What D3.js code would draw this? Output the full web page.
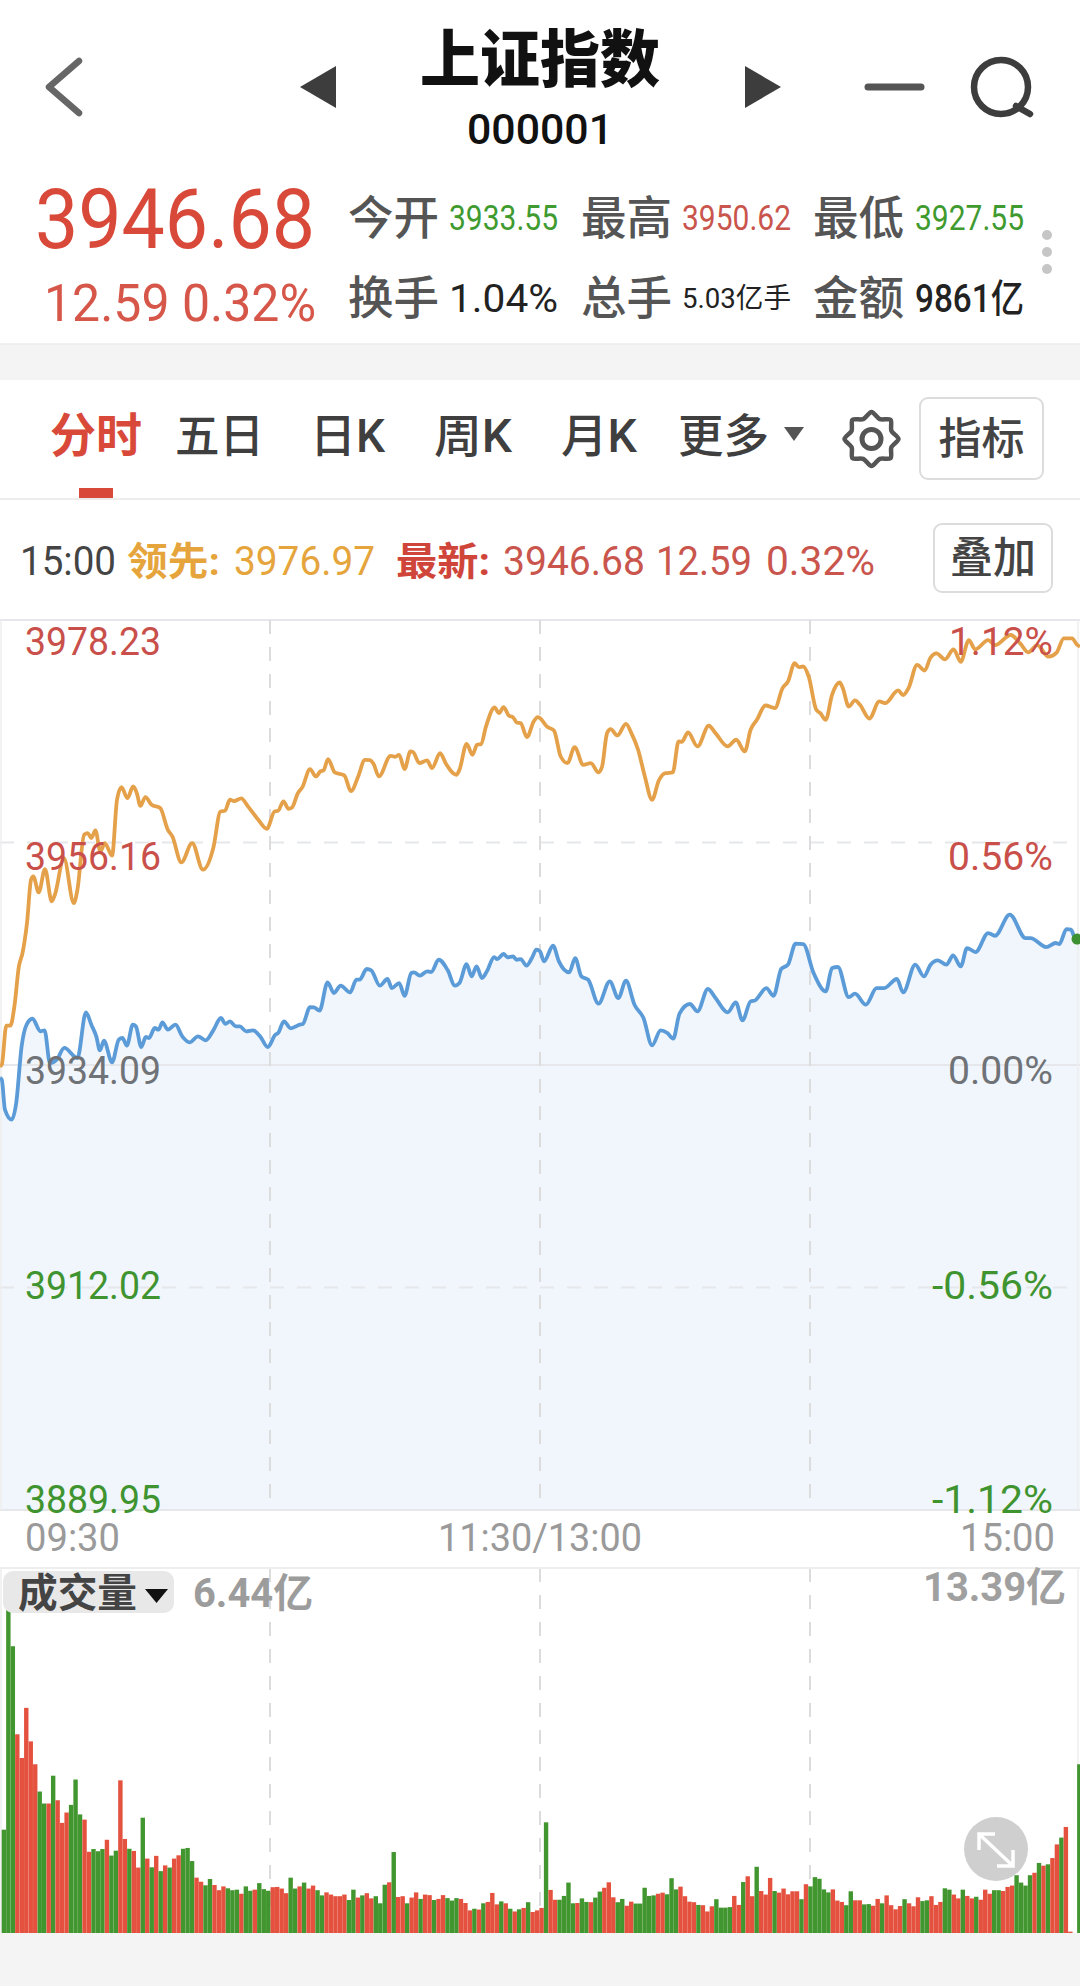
<!DOCTYPE html>
<html>
<head>
<meta charset="utf-8">
<script src="https://cdnjs.cloudflare.com/ajax/libs/d3/7.8.5/d3.min.js"></script>
<style>
  html, body { margin: 0; padding: 0; background: #fff; }
  svg { display: block; }
  text { font-family: Roboto, "Noto Sans CJK SC", sans-serif; }
</style>
</head>
<body>
<div id="graf"></div>
<script>
// Datos
const priceTicks = ["3978.23", "3956.16", "3934.09", "3912.02", "3889.95"]
const pctTicks = ["1.12%", "0.56%", "0.00%", "-0.56%", "-1.12%"]
const tickColors = ["#c9504a", "#c9504a", "#6f7276", "#3f9430", "#3f9430"]
const tabs = ["五日", "日K", "周K", "月K", "更多"]
const timeLabels = ["09:30", "11:30/13:00", "15:00"]

const leadMinute = [0,0.4,1.4,2.3,3.2,4.2,5,6,6.9,7.4,8.6,10,11.5,12.2,14.2,16.4,17.2,18.7,19.5,20.3,21.2,22.3,23.3,24.9,26,27,28.3,29.6,30.4,31.2,32.3,33.7,35.6,37.3,38.3,40.3,42.7,45.1,47.4,49,50,51.1,52,53.6,55.1,57.4,59.3,61,61.8,63,64.1,64.9,66.2,67.2,68.9,70.2,71.2,71.9,72.9,74.4,76.5,78,79.6,81.1,82.2,83,84.2,86.8,87.8,88.7,89.9,91.2,91.8,93.2,94.9,96,97.8,99.1,101.4,102.1,103.7,105,106,106.9,108,109.9,110.9,111.9,113.1,114,114.8,115.7,117.1,118.6,119.5,
  120,121.5,123.1,124.6,126.1,127.7,129.6,131.3,133,133.8,134.9,135.7,137.2,139.1,140.3,141.8,143.3,144.9,146.4,147.9,149.5,150.8,151.5,152.9,155,157.5,159,161.7,163.6,165.5,166.8,168.2,170.1,172.2,173.9,175.1,176.6,177.5,178.5,179.7,181.4,182.3,183.5,184.9,186.6,187.3,188.6,190,191.1,193.2,195.4,196.7,199.6,200.7,201.9,203.8,205.5,206.7,208.1,210,211.9,213.5,215.3,216.7,219.6,221.1,224.6,226.7,228.5,230.5,233,234.8,236.4,238.2,239.4,240]
const leadPrice = [3933.96,3934.12,3937.99,3937.99,3939.91,3943.87,3945.19,3948.17,3952.47,3952.80,3951.21,3953.52,3950.32,3950.98,3954.61,3950.15,3951.47,3956.93,3957.09,3956.60,3957.36,3955.27,3956.10,3954.85,3960.40,3961.65,3960.56,3961.72,3961.06,3959.80,3960.66,3959.90,3959.57,3957.42,3956.76,3954.18,3956.10,3953.46,3955.61,3959.24,3959.31,3960.40,3960.27,3960.53,3959.74,3958.41,3957.52,3959.24,3959.31,3960.23,3959.51,3959.64,3961.06,3961.65,3963.44,3962.71,3963.21,3963.31,3964.43,3963.11,3962.81,3961.26,3962.71,3964.36,3964.33,3963.97,3962.71,3964.76,3964.66,3964.86,3963.44,3965.19,3965.12,3964.03,3964.30,3963.54,3965.02,3963.97,3962.88,3963.37,3965.95,3964.86,3965.85,3965.92,3967.67,3969.55,3968.99,3969.59,3968.73,3968.59,3968.07,3968.00,3966.61,3968.16,3968.59,
  3968.50,3967.67,3967.27,3964.69,3964.03,3965.62,3963.87,3964.03,3963.11,3963.70,3967.01,3967.40,3966.78,3967.93,3967.01,3965.36,3962.71,3960.40,3962.31,3963.04,3963.11,3966.18,3966.15,3967.07,3965.69,3967.74,3967.01,3965.69,3966.35,3965.19,3967.34,3968.33,3969.75,3969.49,3971.47,3972.13,3973.95,3973.55,3973.62,3972.63,3969.32,3968.99,3968.33,3970.81,3972.03,3971.47,3969.65,3970.25,3969.82,3968.46,3970.15,3969.98,3971.24,3970.78,3971.47,3973.78,3973.22,3974.43,3974.92,3974.33,3975.32,3974.09,3976.24,3975.32,3976.24,3975.74,3976.74,3975.91,3975.02,3975.74,3974.59,3974.99,3976.41,3976.41,3975.74,3975.60]

const indexMinute = [0,0.4,1.1,2.6,3.6,4.8,5.9,7.2,9,9.9,11.1,12.6,14.3,17.2,19.1,20.3,21.4,22.2,23.1,24.9,26.4,27.2,28.2,29.5,30.2,31.4,32.4,33.1,34.4,35.2,36.1,37.3,39,40.5,42.2,44,45.7,47.4,49.1,50.1,51.1,52.4,53.3,54.7,56.2,57.8,59.5,61.2,61.8,63.1,64.6,66.6,67.3,68.9,69.8,71,72.8,74.2,75.7,77.8,79.2,79.9,81.5,82.5,84.4,86.1,87.1,88.7,89.9,91.4,92,93.3,94.9,95.8,97.5,99.5,101.1,102.1,103.7,104.8,105.9,107.1,108.2,109.8,110.5,111.9,112.8,114,114.8,115.7,117,118.2,119.2,
  120,120.9,122.9,124.2,126.5,127.8,129.2,130.7,133,135.5,137.4,139.1,141,143,144.9,146.8,148.3,149.6,151,153.3,155,157.3,159,161.7,163.5,165,166.8,167.8,170.3,171.9,173.6,175.1,176.8,178.5,180.8,183.5,184.9,186.2,188.6,190,192.4,194.8,196.5,199.3,200.7,203.4,205.3,206.8,208.4,210.3,211.8,213.5,214.9,216.8,219.6,221.1,224.4,227.9,229,232.5,234.6,235.4,237,238,239.2,240]
const indexPrice = [3932.80,3932.63,3929.66,3928.67,3930.32,3935.93,3938.08,3938.68,3937.43,3937.53,3934.29,3934.62,3935.78,3934.78,3939.31,3938.09,3936.93,3935.54,3936.50,3934.35,3936.60,3936.77,3936.01,3938.09,3937.92,3935.87,3936.87,3936.77,3937.76,3937.59,3938.32,3937.59,3938.09,3936.93,3936.34,3936.93,3936.54,3937.53,3938.75,3938.16,3938.42,3937.92,3937.92,3937.43,3937.53,3936.93,3935.87,3937.10,3937.26,3938.42,3937.73,3938.09,3938.16,3939.84,3939.81,3939.48,3942.29,3941.23,3941.96,3941.29,3942.55,3942.55,3943.61,3943.48,3941.96,3942.62,3941.72,3942.22,3940.96,3943.21,3943.28,3942.95,3943.38,3943.31,3944.53,3943.48,3941.96,3942.22,3944.10,3942.88,3943.87,3942.72,3943.38,3944.80,3944.60,3945.10,3944.77,3944.86,3944.53,3944.60,3943.94,3944.70,3945.53,
  3945.36,3944.37,3945.92,3944.37,3943.28,3944.70,3942.88,3942.55,3940.17,3942.39,3940.73,3942.45,3940.07,3938.75,3936.04,3937.53,3937.26,3936.70,3939.18,3940.14,3939.41,3941.63,3940.73,3939.31,3940.30,3938.52,3940.40,3940.50,3941.72,3940.96,3943.61,3944.04,3946.12,3946.09,3943.21,3941.39,3943.71,3943.81,3940.83,3941.16,3940.07,3941.72,3941.72,3942.62,3941.29,3944.04,3942.88,3944.04,3944.47,3944.04,3944.96,3943.87,3945.69,3945.29,3947.18,3946.91,3949.00,3946.68,3946.68,3945.79,3946.19,3946.09,3947.57,3947.51,3946.35,3946.68]

// Volumen en 亿, un valor por minuto
const volumen = [
  3.79,12.88,10.52,7.29,6.42,8.26,7.03,6.19,5.19,4.75,
  4.75,5.77,4.87,4.04,4.42,4.70,5.63,4.35,4.16,2.98,
  3.08,3.00,3.08,3.42,2.84,3.02,5.60,3.45,3.09,3.01,
  2.40,4.23,2.73,2.41,2.83,2.27,2.48,2.40,2.73,2.85,
  3.09,3.12,2.64,2.03,1.88,1.75,1.98,1.76,1.57,1.71,
  1.64,1.57,1.59,1.44,1.71,1.55,1.59,1.83,1.61,1.55,
  1.68,1.69,1.63,1.46,2.03,1.63,1.71,1.85,1.63,1.74,
  1.57,1.38,1.49,1.41,1.35,1.35,1.41,1.21,1.59,1.30,
  1.38,1.46,1.27,1.35,1.09,1.77,1.86,2.97,1.32,1.35,
  1.09,1.30,1.49,1.25,1.41,1.39,1.21,1.25,1.39,1.28,
  1.19,1.28,1.25,1.10,0.83,0.89,0.86,1.09,1.14,1.47,
  1.05,1.16,1.09,0.89,0.79,0.87,0.92,1.13,0.77,0.83,
  0.92,4.06,1.58,1.22,1.22,1.36,1.85,1.09,1.10,1.27,
  1.14,1.13,1.30,1.52,1.66,1.86,1.31,1.13,1.25,1.00,
  1.15,1.08,1.08,1.66,1.36,1.38,1.44,1.48,1.42,2.01,
  1.60,1.70,1.35,1.15,1.13,1.03,1.02,0.79,0.98,1.24,
  0.93,0.93,0.95,1.36,1.03,1.87,2.08,1.35,2.43,1.54,
  1.41,2.02,1.54,1.48,1.63,1.42,1.53,1.53,1.24,1.79,
  1.71,2.05,1.99,1.60,1.49,1.60,1.19,1.14,1.02,1.53,
  1.20,1.20,1.05,1.06,1.00,1.25,1.09,1.38,1.02,0.87,
  0.99,1.24,1.09,0.98,1.31,1.17,1.20,1.35,1.03,1.14,
  1.64,1.59,1.41,1.27,1.59,1.36,1.27,1.33,1.22,1.59,
  1.44,1.57,1.57,1.54,1.69,1.74,2.12,1.85,1.74,2.12,
  2.21,2.57,2.47,2.52,2.75,3.25,3.50,3.89,0.05,0,
  6.19]
// r sube, g baja
const direccion = (
  "gggrrrrrgg" + "rgrrrgggrr" + "gggrggrrgr" + "rgrgrgrgrr" + "gggrrggrrr" +
  "gggrggrggg" + "rrrrggrgrr" + "ggrrrrrggr" + "grrgggrgrr" + "grrgrrgrrg" +
  "ggrrrgrgrr" + "rgrgrgrgrr" + "rgrrggggrg" + "grggrrrggr" + "rgggggrrgg" +
  "grrrrgrrrg" + "gggrrgrrgr" + "rrgrrrrrgr" + "gggggrrrgg" + "rrggrrgrrr" +
  "rgrrrggrrr" + "ggrrgrrgrr" + "rggrrrgggg" + "rgrgrrgrrr" + "g").split("")

const W = 1080, H = 1986
const rojo = "#d9493a", verde = "#3f9a30", gris = "#555"

const svg = d3.select("#graf").append("svg")
  .attr("width", W).attr("height", H).attr("viewBox", `0 0 ${W} ${H}`)

// Escaladores
const x = d3.scaleLinear().domain([0, 240]).range([0, 1080])
const y = d3.scaleLinear().domain([3889.95, 3978.23]).range([1510, 620])
const yLabel = d3.scaleLinear().domain([3889.95, 3978.23]).range([1499, 641])
const xBar = d3.scaleBand().domain(d3.range(volumen.length)).range([1.67, 1081.6])
const yVol = d3.scaleLinear().domain([0, 13.39]).range([1933, 1568])

// Texto, con ancho fijado cuando hace falta igualar la fuente estrecha
const texto = (str, px, py, size, fill, o = {}) => {
  const t = svg.append("text")
    .attr("x", px).attr("y", py).attr("dy", "0.36em")
    .attr("font-size", size).attr("fill", fill)
    .attr("font-weight", o.weight || 400)
    .attr("text-anchor", o.anchor || "start")
    .text(str)
  if (o.len) t.attr("textLength", o.len).attr("lengthAdjust", "spacingAndGlyphs")
  return t
}

// Fondos
svg.append("rect").attr("width", W).attr("height", H).attr("fill", "#fff")
svg.append("rect").attr("y", 344).attr("width", W).attr("height", 36).attr("fill", "#f4f4f4")
svg.append("rect").attr("y", 1933).attr("width", W).attr("height", H - 1933).attr("fill", "#f4f4f4")
svg.append("line").attr("x1", 0).attr("x2", W).attr("y1", 344).attr("y2", 344).attr("stroke", "#ececec").attr("stroke-width", 1.5)
svg.append("line").attr("x1", 0).attr("x2", W).attr("y1", 499).attr("y2", 499).attr("stroke", "#ececec").attr("stroke-width", 2)

// Cabecera
svg.append("path").attr("d", "M79 61L49 87L79 113").attr("fill", "none")
  .attr("stroke", "#666").attr("stroke-width", 6.5).attr("stroke-linecap", "round").attr("stroke-linejoin", "round")
svg.append("path").attr("d", "M336 66L300 87L336 108Z").attr("fill", "#3d3d3d")
svg.append("path").attr("d", "M745 66L781 87L745 108Z").attr("fill", "#3d3d3d")
svg.append("line").attr("x1", 868).attr("x2", 921).attr("y1", 87).attr("y2", 87)
  .attr("stroke", "#555").attr("stroke-width", 7).attr("stroke-linecap", "round")
svg.append("circle").attr("cx", 1001).attr("cy", 87).attr("r", 27).attr("fill", "none")
  .attr("stroke", "#3d3d3d").attr("stroke-width", 6.5)
svg.append("line").attr("x1", 1016).attr("y1", 106).attr("x2", 1030).attr("y2", 114)
  .attr("stroke", "#3d3d3d").attr("stroke-width", 6.5).attr("stroke-linecap", "round")

texto("上证指数", 540, 60, 62, "#111", { anchor: "middle", weight: 900, len: 240 })
texto("000001", 540, 129, 42, "#111", { anchor: "middle", len: 146, weight: 500 })

texto("3946.68", 35, 218, 84, rojo, { weight: 400, len: 280 })
texto("12.59 0.32%", 44, 303, 51, "#d6574a", { len: 272 })

const etiquetas = [["今开", "3933.55", verde], ["最高", "3950.62", "#c9554d"], ["最低", "3927.55", verde]]
const etiquetas2 = [["换手", "1.04%"], ["总手", "5.03亿手"], ["金额", "9861亿"]]
const colX = [348, 581, 813], valX = [449, 682, 915]
etiquetas.forEach((d, i) => {
  texto(d[0], colX[i], 217, 46, gris, { weight: 500, len: 91 })
  texto(d[1], valX[i], 217, 35, d[2], { len: 109 })
})
etiquetas2.forEach((d, i) => {
  texto(d[0], colX[i], 297, 46, gris, { weight: 500, len: 91 })
  texto(d[1], valX[i], 298, i == 1 ? 28 : 39, "#222", { len: 109, weight: i == 2 ? 500 : 400 })
})
;[235, 252, 269].forEach(cy => {
  svg.append("circle").attr("cx", 1047).attr("cy", cy).attr("r", 5).attr("fill", "#c6c6c6")
})

// Pestanas
texto("分时", 50, 435, 47, rojo, { weight: 700, len: 92 })
svg.append("rect").attr("x", 79).attr("y", 488).attr("width", 34).attr("height", 10).attr("fill", rojo)
const tabX = [175, 310, 434, 561, 678], tabLen = [89, 75, 78, 76, 91]
tabs.forEach((d, i) => texto(d, tabX[i], 435, 46, "#3f3f3f", { weight: 500, len: tabLen[i] }))
svg.append("path").attr("d", "M784 427L804 427L794 441Z").attr("fill", "#555")

// Engranaje
const gear = d3.lineRadial().curve(d3.curveCardinalClosed.tension(0.2))
  .angle(d => d[0]).radius(d => d[1])
svg.append("path")
  .attr("transform", "translate(871.5,439)")
  .attr("d", gear(d3.range(16).map(i => [i * Math.PI / 8, i % 2 ? 21.5 : 27])))
  .attr("fill", "none").attr("stroke", "#555").attr("stroke-width", 4.5)
svg.append("circle").attr("cx", 871.5).attr("cy", 439).attr("r", 9.5).attr("fill", "none")
  .attr("stroke", "#555").attr("stroke-width", 5)

const boton = (bx, by, bw, bh, str) => {
  svg.append("rect").attr("x", bx).attr("y", by).attr("width", bw).attr("height", bh)
    .attr("rx", 8).attr("fill", "#fff").attr("stroke", "#dcdcdc").attr("stroke-width", 2)
  texto(str, bx + bw / 2, by + bh / 2, 43, "#444", { anchor: "middle", weight: 500, len: 86 })
}
boton(920, 398, 123, 81, "指标")
boton(934, 524, 118, 68, "叠加")

// Fila de informacion
texto("15:00", 20, 561, 40, "#444", { len: 96 })
texto("领先:", 127, 561, 39, "#e5a53c", { weight: 700, len: 93 })
texto("3976.97", 234, 561, 40, "#e5a53c", { len: 141 })
texto("最新:", 396, 561, 39, "#d0453a", { weight: 700, len: 94 })
texto("3946.68", 503, 561, 40, "#c9554d", { len: 142 })
texto("12.59", 656, 561, 40, "#c9554d", { len: 96 })
texto("0.32%", 766, 561, 40, "#c9554d", { len: 109 })

// Area bajo el indice
const puntosIndice = indexMinute.map((m, i) => [m, indexPrice[i]])
const puntosLider = leadMinute.map((m, i) => [m, leadPrice[i]])
const area = d3.area().curve(d3.curveMonotoneX)
  .x(d => x(d[0])).y0(y.range()[0]).y1(d => y(d[1]))
svg.append("path").attr("d", area(puntosIndice)).attr("fill", "#f0f6fc")

// Rejilla
const lineaGris = "#e6e7ea"
priceTicks.forEach((d, i) => {
  svg.append("line").attr("x1", 0).attr("x2", W).attr("y1", y(+d)).attr("y2", y(+d))
    .attr("stroke", lineaGris).attr("stroke-width", 2)
    .attr("stroke-dasharray", i % 2 ? "14 13" : null)
})
;[60, 120, 180].forEach(m => {
  [[620, 1510], [1568, 1933]].forEach(r => {
    svg.append("line").attr("x1", x(m)).attr("x2", x(m)).attr("y1", r[0]).attr("y2", r[1])
      .attr("stroke", "#dcdcdc").attr("stroke-width", 2).attr("stroke-dasharray", "14 13")
  })
})
svg.append("line").attr("x1", 0).attr("x2", W).attr("y1", 1568).attr("y2", 1568).attr("stroke", "#eeeeee").attr("stroke-width", 2)
;[[1, 620, 1510], [1078, 620, 1510], [1, 1568, 1933], [1078, 1568, 1933]].forEach(d => {
  svg.append("line").attr("x1", d[0]).attr("x2", d[0]).attr("y1", d[1]).attr("y2", d[2])
    .attr("stroke", "#eeeeee").attr("stroke-width", 1.5)
})

// Lineas
const linea = d3.line().curve(d3.curveMonotoneX).x(d => x(d[0])).y(d => y(d[1]))
svg.append("path").attr("d", linea(puntosLider)).attr("fill", "none")
  .attr("stroke", "#e5a14a").attr("stroke-width", 3.8).attr("stroke-linejoin", "round")
svg.append("path").attr("d", linea(puntosIndice)).attr("fill", "none")
  .attr("stroke", "#5b9bd8").attr("stroke-width", 3.8).attr("stroke-linejoin", "round")
svg.append("circle").attr("cx", x(240) - 3).attr("cy", y(indexPrice[indexPrice.length - 1]) + 1)
  .attr("r", 5.5).attr("fill", "#3d9130")

// Etiquetas de los ejes
const pctLen = [104, 105, 105, 121, 121]
priceTicks.forEach((d, i) => {
  texto(d, 25, yLabel(+d), 39, tickColors[i], { len: 136 })
})
pctTicks.forEach((d, i) => {
  texto(d, 1053, yLabel(+priceTicks[i]), 39, tickColors[i], { anchor: "end", len: pctLen[i] })
})
texto(timeLabels[0], 25, 1537, 38, "#9a9a9a", { len: 95 })
texto(timeLabels[1], x(120), 1537, 38, "#9a9a9a", { anchor: "middle", len: 204 })
texto(timeLabels[2], 1055, 1537, 38, "#9a9a9a", { anchor: "end", len: 95 })

// Barras de volumen
svg.append("g").selectAll("rect").data(volumen).join("rect")
  .attr("x", (d, i) => xBar(i))
  .attr("width", xBar.bandwidth() - 0.08)
  .attr("y", d => yVol(d))
  .attr("height", d => yVol(0) - yVol(d))
  .attr("fill", (d, i) => direccion[i] == "r" ? "#e4523f" : "#42962f")

// Cabecera del volumen
svg.append("rect").attr("x", 3).attr("y", 1571).attr("width", 171).attr("height", 42)
  .attr("rx", 10).attr("fill", "#e8e8e8")
texto("成交量", 18, 1593, 40, "#444", { weight: 700, len: 119 })
svg.append("path").attr("d", "M145 1589L168 1589L156.5 1603Z").attr("fill", "#111")
texto("6.44亿", 193, 1593, 40, "#9c9c9c", { weight: 700, len: 120 })
texto("13.39亿", 1066, 1587, 40, "#a0a0a0", { anchor: "end", weight: 700, len: 143 })

// Boton de expandir
svg.append("circle").attr("cx", 996).attr("cy", 1849).attr("r", 32).attr("fill", "#cfcfcf")
svg.append("path")
  .attr("d", "M979 1834L1013 1866M979 1850L979 1834L995 1834M1013 1850L1013 1866L997 1866")
  .attr("fill", "none").attr("stroke", "#fff").attr("stroke-width", 3.5)
</script>
</body>
</html>
